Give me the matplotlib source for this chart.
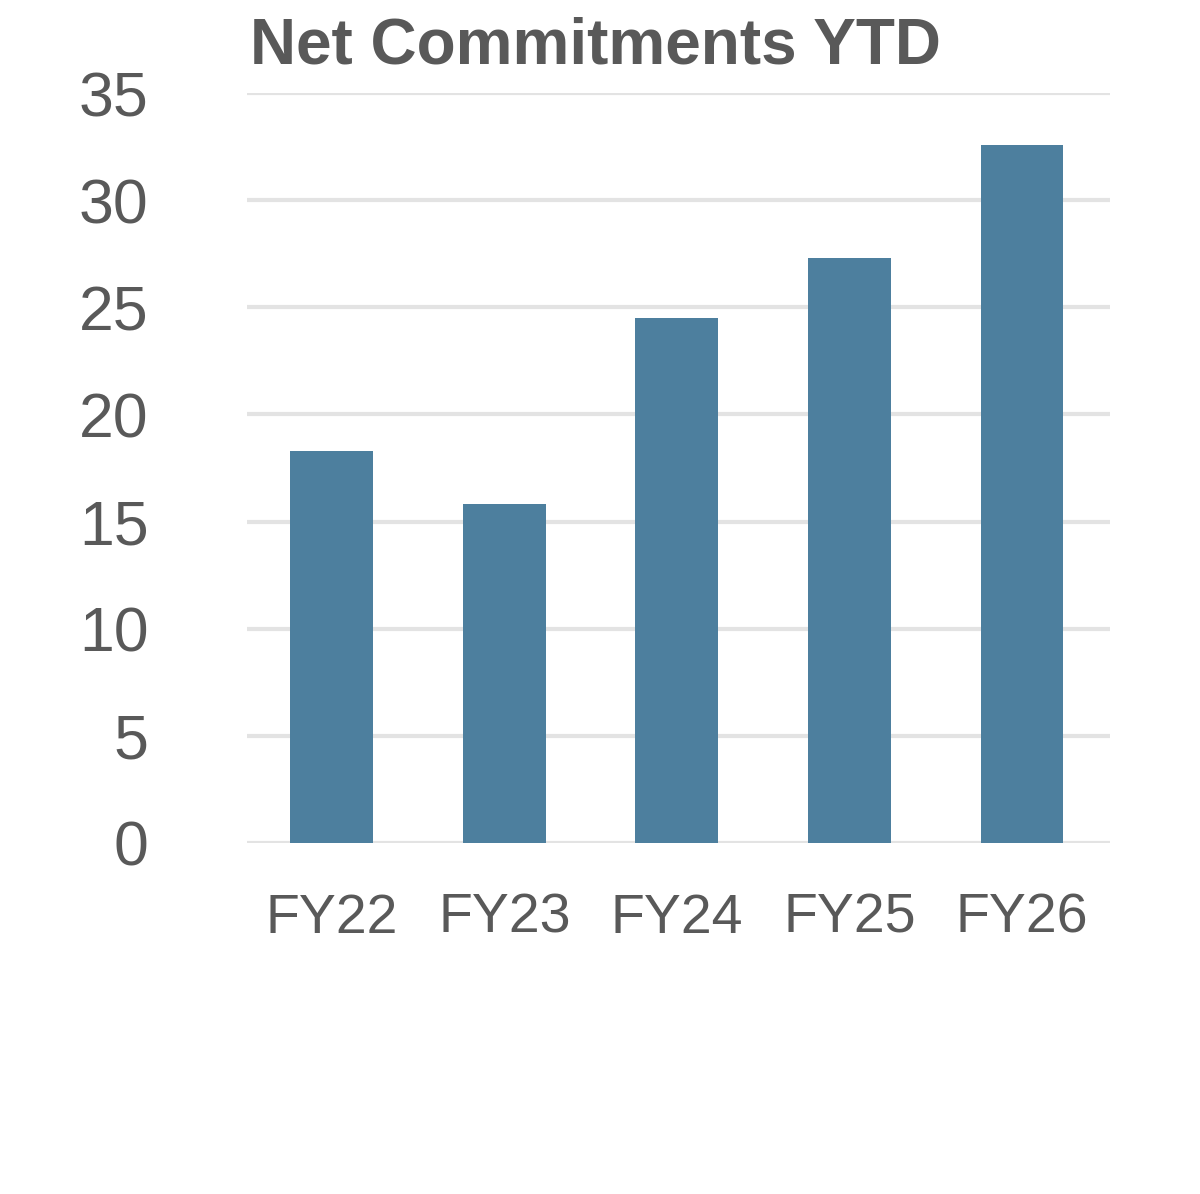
import matplotlib
matplotlib.use("Agg")
import matplotlib.pyplot as plt

categories = ["FY22", "FY23", "FY24", "FY25", "FY26"]
values = [18.3, 15.8, 24.5, 27.3, 32.6]
yticks = [0, 5, 10, 15, 20, 25, 30, 35]

plt.rcParams['font.family'] = ['Liberation Sans', 'DejaVu Sans']
gray = "#595959"
fig = plt.figure(figsize=(12, 11.94), dpi=100)
ax = fig.add_axes([0.206, 0.294, 0.719, 0.628])
ax.bar(range(len(categories)), values, width=0.48, color="#4d7f9e", zorder=3)
ax.set_xlim(-0.49, 4.51)
ax.set_ylim(0, 35)
ax.set_yticks(yticks)
ax.set_xticks(range(len(categories)))
ax.set_xticklabels(categories)
ax.grid(axis='y', color="#e3e3e3", linewidth=3, zorder=0)
ax.set_axisbelow(True)
for s in ax.spines.values():
    s.set_visible(False)
ax.tick_params(axis='y', length=0, labelsize=45, labelcolor=gray, pad=71)
ax.tick_params(axis='x', length=0, labelsize=40, labelcolor=gray, pad=36)
for lab in ax.get_yticklabels():
    lab.set_horizontalalignment('right')
fig.text(0.208, 0.961, "Net Commitments YTD", fontsize=46, fontweight='bold', color=gray, va='center', ha='left')
fig.savefig("out.png", dpi=100)
